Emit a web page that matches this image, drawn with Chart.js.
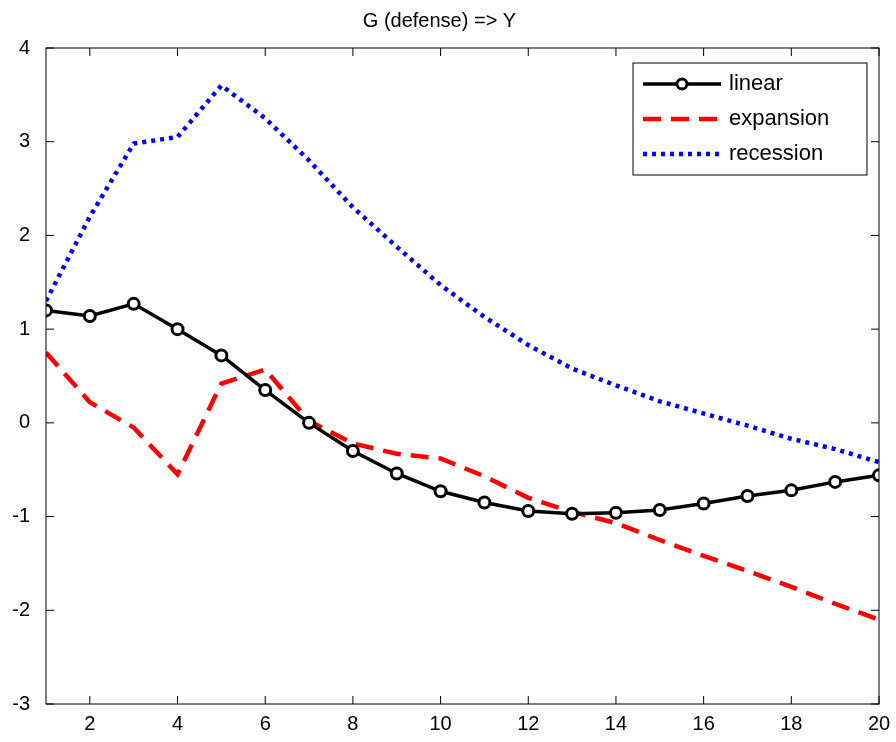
<!DOCTYPE html>
<html><head><meta charset="utf-8">
<script src="https://cdn.jsdelivr.net/npm/chart.js@4"></script>
<style>html,body{margin:0;background:#fff}#wrap{width:896px;height:742px}</style>
</head><body><div id="wrap"><canvas id="c"></canvas></div>
<script>
const horizons = [1,2,3,4,5,6,7,8,9,10,11,12,13,14,15,16,17,18,19,20];
const linear = [1.2,1.14,1.27,1.0,0.72,0.35,0.0,-0.3,-0.54,-0.73,-0.85,-0.94,-0.97,-0.96,-0.93,-0.86,-0.78,-0.72,-0.63,-0.56];
const expansion = [0.75,0.22,-0.05,-0.55,0.42,0.57,0.02,-0.22,-0.33,-0.38,-0.57,-0.8,-0.95,-1.07,-1.25,-1.42,-1.58,-1.75,-1.93,-2.1];
const recession = [1.3,2.2,2.98,3.05,3.6,3.25,2.8,2.3,1.88,1.47,1.13,0.83,0.58,0.4,0.23,0.1,-0.03,-0.17,-0.28,-0.42];
const xTicks = [2,4,6,8,10,12,14,16,18,20];

const pts = arr => arr.map((v, i) => ({x: horizons[i], y: v}));

// MATLAB-like box, inward ticks and legend
const frame = {
  id: "frame",
  afterDraw(chart) {
    const {ctx, chartArea: a, scales: {x, y}} = chart;
    ctx.save();
    ctx.strokeStyle = "#000"; ctx.lineWidth = 1;
    ctx.strokeRect(a.left, a.top, a.right - a.left, a.bottom - a.top);
    ctx.beginPath();
    xTicks.forEach(t => { const p = x.getPixelForValue(t);
      ctx.moveTo(p, a.bottom); ctx.lineTo(p, a.bottom - 8);
      ctx.moveTo(p, a.top); ctx.lineTo(p, a.top + 8); });
    for (let t = -3; t <= 4; t++) { const p = y.getPixelForValue(t);
      ctx.moveTo(a.left, p); ctx.lineTo(a.left + 8, p);
      ctx.moveTo(a.right, p); ctx.lineTo(a.right - 8, p); }
    ctx.stroke();
    // legend
    const lx = a.right - 246, ly = a.top + 15, lw = 234, lh = 112;
    ctx.fillStyle = "#fff"; ctx.fillRect(lx, ly, lw, lh);
    ctx.strokeRect(lx, ly, lw, lh);
    ctx.font = "22px Arial, 'Liberation Sans', sans-serif";
    ctx.textBaseline = "middle";
    chart.data.datasets.forEach((d, i) => {
      const yy = ly + 21 + i * 35;
      ctx.strokeStyle = d.borderColor; ctx.lineWidth = d.borderWidth;
      ctx.setLineDash(d.borderDash || []);
      ctx.beginPath(); ctx.moveTo(lx + 10, yy); ctx.lineTo(lx + 88, yy); ctx.stroke();
      ctx.setLineDash([]);
      if (i === 0) { ctx.lineWidth = 3; ctx.beginPath(); ctx.arc(lx + 49, yy, 5, 0, 2*Math.PI);
        ctx.fillStyle = "#fff"; ctx.fill(); ctx.stroke(); }
      ctx.fillStyle = "#000"; ctx.fillText(d.label, lx + 96, yy);
    });
    ctx.restore();
  }
};

new Chart(document.getElementById("c"), {
  type: "line",
  data: { datasets: [
    { label: "linear", data: pts(linear), borderColor: "#000", borderWidth: 3.5,
      pointRadius: 5.5, pointBorderWidth: 3, pointBackgroundColor: "#fff", pointBorderColor: "#000" },
    { label: "expansion", data: pts(expansion), borderColor: "#ff0000", borderWidth: 4.5,
      borderDash: [18, 10], pointRadius: 0 },
    { label: "recession", data: pts(recession), borderColor: "#0000ff", borderWidth: 4.5,
      borderDash: [4, 5], pointRadius: 0 }
  ]},
  plugins: [frame],
  options: {
    animation: false, responsive: true, maintainAspectRatio: false,
    layout: { padding: { top: 9, right: 17, bottom: 6, left: 0 } },
    plugins: {
      legend: { display: false }, tooltip: { enabled: false },
      title: { display: true, text: "G (defense) => Y", color: "#000",
        font: { size: 20, family: "Arial, 'Liberation Sans', sans-serif", weight: "normal" },
        padding: { top: 0, bottom: 15 } }
    },
    scales: {
      x: { type: "linear", min: 1, max: 20,
        afterBuildTicks: s => { s.ticks = xTicks.map(v => ({value: v})); },
        grid: { display: false }, border: { display: false },
        ticks: { color: "#000", maxRotation: 0, font: { size: 20, family: "Arial, 'Liberation Sans', sans-serif" }, padding: 0 } },
      y: { min: -3, max: 4, afterFit: s => { s.width = 46; },
        grid: { display: false }, border: { display: false },
        ticks: { stepSize: 1, color: "#000", font: { size: 20, family: "Arial, 'Liberation Sans', sans-serif" }, padding: 8 } }
    }
  }
});
</script></body></html>
